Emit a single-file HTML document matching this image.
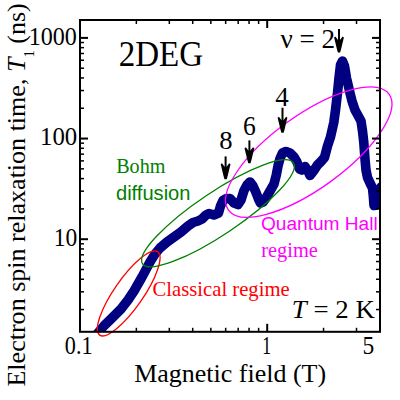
<!DOCTYPE html>
<html><head><meta charset="utf-8">
<style>
html,body{margin:0;padding:0;background:#fff;}
body{width:400px;height:400px;overflow:hidden;}
svg{display:block;}
</style></head><body>
<svg width="400" height="400" viewBox="0 0 400 400">
<rect width="400" height="400" fill="#fff"/>
<defs><clipPath id="pc"><rect x="80" y="20" width="300" height="311.8"/></clipPath></defs>
<g clip-path="url(#pc)">
<path d="M97.0,334.0 L103.8,326.0 L112.0,318.0 L121.0,309.0 L128.0,300.0 L134.0,291.0 L138.0,284.0 L142.0,277.0 L146.0,269.5 L150.0,262.0 L155.0,254.0 L160.0,248.0 L167.0,242.0 L174.0,237.0 L181.0,232.0 L188.0,226.0 L193.0,222.5 L198.0,221.0 L202.0,219.0 L206.0,215.0 L209.0,213.5 L213.8,215.0 L218.5,213.0 L220.5,206.0 L223.0,200.5 L226.5,198.5 L230.0,198.5 L234.0,203.0 L238.0,204.5 L241.0,200.0 L244.0,190.5 L247.0,185.0 L250.0,182.0 L253.0,186.0 L256.0,192.5 L258.5,199.0 L260.5,203.0 L263.0,202.0 L266.0,198.0 L270.0,191.0 L274.0,184.0 L276.3,175.0 L278.0,166.0 L280.0,158.5 L282.5,153.0 L286.0,151.5 L290.0,153.0 L294.0,157.0 L297.0,162.0 L299.5,169.0 L302.0,170.0 L305.0,166.5 L307.5,170.0 L310.0,175.5 L313.5,171.0 L317.5,165.0 L321.0,161.5 L324.5,157.5 L327.5,146.0 L330.5,137.0 L333.8,122.5 L335.5,110.0 L337.5,93.0 L339.0,78.0 L340.5,65.0 L342.5,61.0 L344.5,66.0 L346.5,78.0 L350.0,93.0 L352.0,101.0 L355.0,110.0 L358.0,115.5 L361.0,121.0 L362.5,131.0 L363.8,142.5 L365.0,159.0 L366.0,170.0 L367.5,177.5 L370.0,183.0 L372.5,188.0 L373.3,196.0 L374.0,205.5 L376.0,205.0 L378.0,197.0 L381.0,187.0" fill="none" stroke="#000080" stroke-width="9.6" stroke-linejoin="round" stroke-linecap="round"/>
</g>
<g fill="none" stroke-width="1.3">
<ellipse cx="128.7" cy="293.4" rx="50.8" ry="14.4" transform="rotate(-55.2 128.7 293.4)" stroke="#ff0000"/>
<ellipse cx="218" cy="213.3" rx="90.8" ry="21.2" transform="rotate(-33.8 218 213.3)" stroke="#008000"/>
<ellipse cx="308.75" cy="152.1" rx="99" ry="36.7" transform="rotate(-35.8 308.75 152.1)" stroke="#ff00ff"/>
</g>
<rect x="80" y="20" width="300" height="311.8" fill="none" stroke="#000" stroke-width="2"/>
<g stroke="#000" stroke-width="1.5"><line x1="136.35" y1="331.80" x2="136.35" y2="327.80"/><line x1="136.35" y1="20.00" x2="136.35" y2="24.00"/><line x1="169.32" y1="331.80" x2="169.32" y2="327.80"/><line x1="169.32" y1="20.00" x2="169.32" y2="24.00"/><line x1="192.71" y1="331.80" x2="192.71" y2="327.80"/><line x1="192.71" y1="20.00" x2="192.71" y2="24.00"/><line x1="210.85" y1="331.80" x2="210.85" y2="327.80"/><line x1="210.85" y1="20.00" x2="210.85" y2="24.00"/><line x1="225.67" y1="331.80" x2="225.67" y2="327.80"/><line x1="225.67" y1="20.00" x2="225.67" y2="24.00"/><line x1="238.20" y1="331.80" x2="238.20" y2="327.80"/><line x1="238.20" y1="20.00" x2="238.20" y2="24.00"/><line x1="249.06" y1="331.80" x2="249.06" y2="327.80"/><line x1="249.06" y1="20.00" x2="249.06" y2="24.00"/><line x1="258.63" y1="331.80" x2="258.63" y2="327.80"/><line x1="258.63" y1="20.00" x2="258.63" y2="24.00"/><line x1="323.55" y1="331.80" x2="323.55" y2="327.80"/><line x1="323.55" y1="20.00" x2="323.55" y2="24.00"/><line x1="356.52" y1="331.80" x2="356.52" y2="327.80"/><line x1="356.52" y1="20.00" x2="356.52" y2="24.00"/><line x1="80.00" y1="309.55" x2="84.00" y2="309.55"/><line x1="380.00" y1="309.55" x2="376.00" y2="309.55"/><line x1="80.00" y1="291.83" x2="84.00" y2="291.83"/><line x1="380.00" y1="291.83" x2="376.00" y2="291.83"/><line x1="80.00" y1="279.25" x2="84.00" y2="279.25"/><line x1="380.00" y1="279.25" x2="376.00" y2="279.25"/><line x1="80.00" y1="269.50" x2="84.00" y2="269.50"/><line x1="380.00" y1="269.50" x2="376.00" y2="269.50"/><line x1="80.00" y1="261.53" x2="84.00" y2="261.53"/><line x1="380.00" y1="261.53" x2="376.00" y2="261.53"/><line x1="80.00" y1="254.79" x2="84.00" y2="254.79"/><line x1="380.00" y1="254.79" x2="376.00" y2="254.79"/><line x1="80.00" y1="248.95" x2="84.00" y2="248.95"/><line x1="380.00" y1="248.95" x2="376.00" y2="248.95"/><line x1="80.00" y1="243.81" x2="84.00" y2="243.81"/><line x1="380.00" y1="243.81" x2="376.00" y2="243.81"/><line x1="80.00" y1="208.90" x2="84.00" y2="208.90"/><line x1="380.00" y1="208.90" x2="376.00" y2="208.90"/><line x1="80.00" y1="191.18" x2="84.00" y2="191.18"/><line x1="380.00" y1="191.18" x2="376.00" y2="191.18"/><line x1="80.00" y1="178.60" x2="84.00" y2="178.60"/><line x1="380.00" y1="178.60" x2="376.00" y2="178.60"/><line x1="80.00" y1="168.85" x2="84.00" y2="168.85"/><line x1="380.00" y1="168.85" x2="376.00" y2="168.85"/><line x1="80.00" y1="160.88" x2="84.00" y2="160.88"/><line x1="380.00" y1="160.88" x2="376.00" y2="160.88"/><line x1="80.00" y1="154.14" x2="84.00" y2="154.14"/><line x1="380.00" y1="154.14" x2="376.00" y2="154.14"/><line x1="80.00" y1="148.30" x2="84.00" y2="148.30"/><line x1="380.00" y1="148.30" x2="376.00" y2="148.30"/><line x1="80.00" y1="143.16" x2="84.00" y2="143.16"/><line x1="380.00" y1="143.16" x2="376.00" y2="143.16"/><line x1="80.00" y1="108.25" x2="84.00" y2="108.25"/><line x1="380.00" y1="108.25" x2="376.00" y2="108.25"/><line x1="80.00" y1="90.53" x2="84.00" y2="90.53"/><line x1="380.00" y1="90.53" x2="376.00" y2="90.53"/><line x1="80.00" y1="77.95" x2="84.00" y2="77.95"/><line x1="380.00" y1="77.95" x2="376.00" y2="77.95"/><line x1="80.00" y1="68.20" x2="84.00" y2="68.20"/><line x1="380.00" y1="68.20" x2="376.00" y2="68.20"/><line x1="80.00" y1="60.23" x2="84.00" y2="60.23"/><line x1="380.00" y1="60.23" x2="376.00" y2="60.23"/><line x1="80.00" y1="53.49" x2="84.00" y2="53.49"/><line x1="380.00" y1="53.49" x2="376.00" y2="53.49"/><line x1="80.00" y1="47.65" x2="84.00" y2="47.65"/><line x1="380.00" y1="47.65" x2="376.00" y2="47.65"/><line x1="80.00" y1="42.51" x2="84.00" y2="42.51"/><line x1="380.00" y1="42.51" x2="376.00" y2="42.51"/></g>
<g stroke="#000" stroke-width="2"><line x1="267.20" y1="331.80" x2="267.20" y2="323.80"/><line x1="267.20" y1="20.00" x2="267.20" y2="28.00"/><line x1="80.00" y1="239.20" x2="88.00" y2="239.20"/><line x1="380.00" y1="239.20" x2="372.00" y2="239.20"/><line x1="80.00" y1="138.55" x2="88.00" y2="138.55"/><line x1="380.00" y1="138.55" x2="372.00" y2="138.55"/><line x1="80.00" y1="37.90" x2="88.00" y2="37.90"/><line x1="380.00" y1="37.90" x2="372.00" y2="37.90"/></g>
<line x1="225.6" y1="156.4" x2="225.6" y2="173.3" stroke="#000" stroke-width="2"/><path d="M220.70,164.30 L222.00,163.30 L224.60,166.70 L226.60,166.70 L229.20,163.30 L230.50,164.30 L228.90,170.80 L227.80,175.50 L226.70,179.30 L224.50,179.30 L223.40,175.50 L222.30,170.80 Z" fill="#000"/><line x1="249.4" y1="140.4" x2="249.4" y2="157.2" stroke="#000" stroke-width="2"/><path d="M244.50,148.20 L245.80,147.20 L248.40,150.60 L250.40,150.60 L253.00,147.20 L254.30,148.20 L252.70,154.70 L251.60,159.40 L250.50,163.20 L248.30,163.20 L247.20,159.40 L246.10,154.70 Z" fill="#000"/><line x1="282.5" y1="107.75" x2="282.5" y2="126.80000000000001" stroke="#000" stroke-width="2"/><path d="M277.60,117.80 L278.90,116.80 L281.50,120.20 L283.50,120.20 L286.10,116.80 L287.40,117.80 L285.80,124.30 L284.70,129.00 L283.60,132.80 L281.40,132.80 L280.30,129.00 L279.20,124.30 Z" fill="#000"/><line x1="339" y1="29" x2="339" y2="46.6" stroke="#000" stroke-width="2"/><path d="M334.10,37.60 L335.40,36.60 L338.00,40.00 L340.00,40.00 L342.60,36.60 L343.90,37.60 L342.30,44.10 L341.20,48.80 L340.10,52.60 L337.90,52.60 L336.80,48.80 L335.70,44.10 Z" fill="#000"/>
<text transform="translate(28.68 44.71) scale(0.9842 1)" font-size="24.48" font-family='"Liberation Serif", serif' style="" fill="#000">1000</text>
<text transform="translate(40.02 145.26) scale(1.0124 1)" font-size="24.48" font-family='"Liberation Serif", serif' style="" fill="#000">100</text>
<text transform="translate(53.63 246.01) scale(0.9603 1)" font-size="24.48" font-family='"Liberation Serif", serif' style="" fill="#000">10</text>
<text transform="translate(64.86 353.91) scale(0.9114 1)" font-size="24.33" font-family='"Liberation Serif", serif' style="" fill="#000">0.1</text>
<text transform="translate(262.31 353.91) scale(0.7281 1)" font-size="24.33" font-family='"Liberation Serif", serif' style="" fill="#000">1</text>
<text transform="translate(362.39 354.20) scale(0.9485 1)" font-size="24.78" font-family='"Liberation Serif", serif' style="" fill="#000">5</text>
<text transform="translate(134.22 382.24) scale(0.9997 1)" font-size="26.00" font-family='"Liberation Serif", serif' style="" fill="#000">Magnetic field (T)</text>
<text transform="translate(118.68 66.25) scale(0.9049 1)" font-size="36.54" font-family='"Liberation Serif", serif' style="" fill="#000">2DEG</text>
<text transform="translate(280.40 47.60) scale(1.0257 1)" font-size="26.46" font-family='"Liberation Serif", serif' style="" fill="#000">ν = 2</text>
<text transform="translate(219.33 149.49) scale(1.0510 1)" font-size="25.37" font-family='"Liberation Serif", serif' style="" fill="#000">8</text>
<text transform="translate(242.98 135.07) scale(0.9738 1)" font-size="26.27" font-family='"Liberation Serif", serif' style="" fill="#000">6</text>
<text transform="translate(275.21 105.50) scale(1.0198 1)" font-size="26.54" font-family='"Liberation Serif", serif' style="" fill="#000">4</text>
<text transform="translate(291.87 317.50) scale(1.0257 1)" font-size="26.15" font-family='"Liberation Serif", serif' style="" fill="#000"><tspan font-style="italic">T</tspan> = 2 K</text>
<text transform="translate(116.15 173.20) scale(0.9789 1)" font-size="20.58" font-family='"Liberation Serif", serif' style="" fill="#008000">Bohm</text>
<text transform="translate(115.94 199.99) scale(0.9734 1)" font-size="20.68" font-family='"Liberation Sans", sans-serif' style="" fill="#008000">diffusion</text>
<text transform="translate(260.89 229.60) scale(0.9997 1)" font-size="19.13" font-family='"Liberation Sans", sans-serif' style="" fill="#ff00ff">Quantum Hall</text>
<text transform="translate(261.24 257.18) scale(0.9409 1)" font-size="21.67" font-family='"Liberation Serif", serif' style="" fill="#ff00ff">regime</text>
<text transform="translate(152.57 295.80) scale(0.9637 1)" font-size="21.45" font-family='"Liberation Serif", serif' style="" fill="#ff0000">Classical regime</text>
<g transform="rotate(-90)"><text transform="translate(-386.53 24.75) scale(1.0260 1)" font-size="25.38" font-family='"Liberation Serif", serif' style="" fill="#000">Electron spin relaxation time, <tspan font-style="italic">T</tspan><tspan font-size="0.567em" dy="0.625em">1</tspan><tspan dy="-0.354em"> (ns)</tspan></text></g>
</svg>
</body></html>
